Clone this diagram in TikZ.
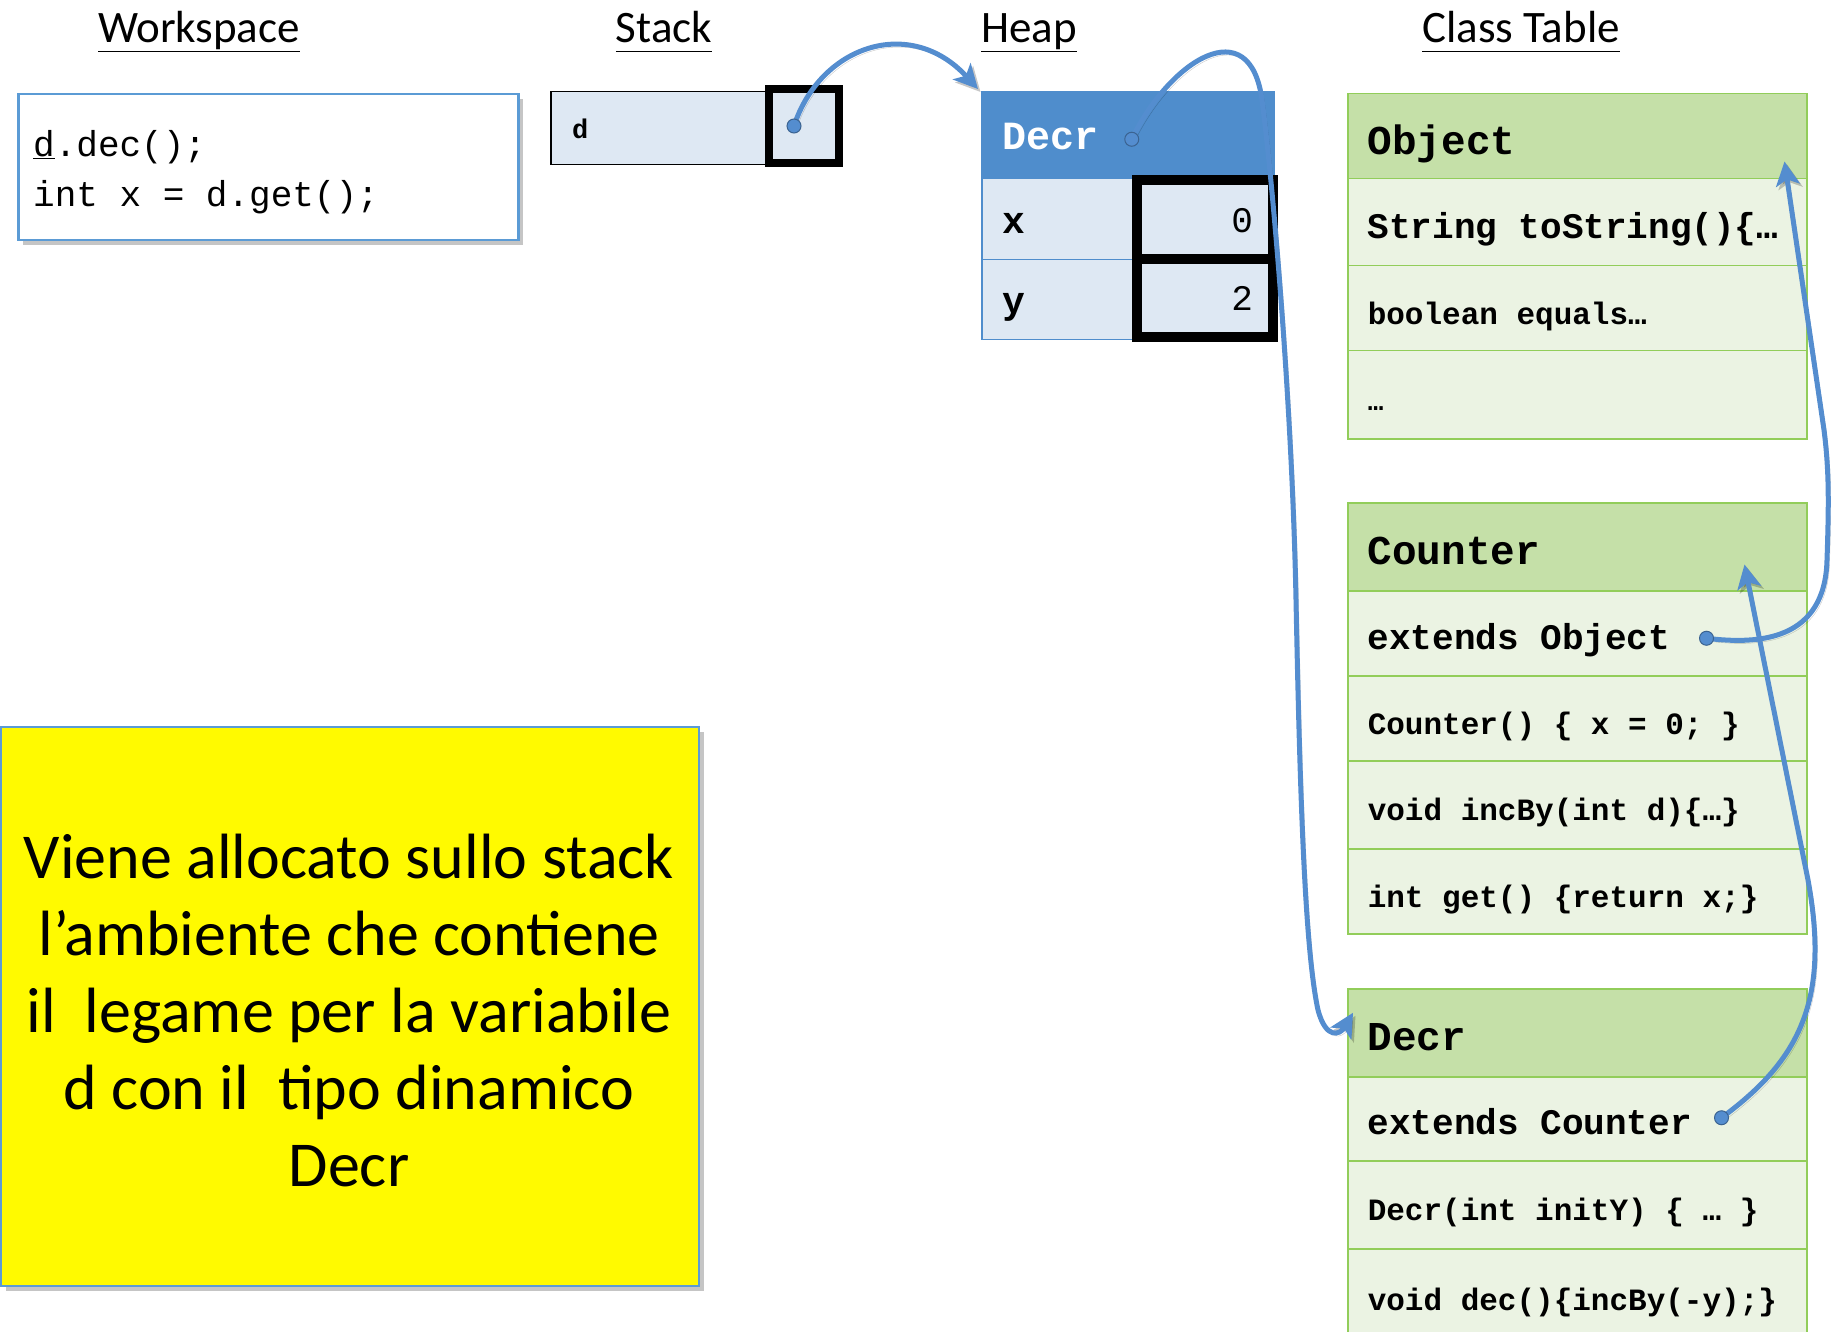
\documentclass[tikz,border=0pt]{standalone}
\usepackage{fontspec}
\setmainfont{Carlito}
\setmonofont{Liberation Mono}
\usetikzlibrary{shadows,arrows.meta}
\definecolor{heapblue}{RGB}{79,141,204}
\definecolor{lblue}{RGB}{222,232,243}
\definecolor{ghead}{RGB}{197,224,168}
\definecolor{grow}{RGB}{235,243,227}
\definecolor{gline}{RGB}{146,205,90}
\definecolor{arrblue}{RGB}{84,141,207}
\definecolor{wsblue}{RGB}{91,155,213}
\definecolor{noteyellow}{RGB}{255,250,0}
\newcommand{\fsz}[1]{\fontsize{#1}{#1}\selectfont}
\newcommand{\monofix}{\spaceskip=0.6em\relax\xspaceskip=0.6em\relax}
\newcommand{\bmono}[1]{\ttfamily\bfseries\fsz{#1}}
\begin{document}
\begin{tikzpicture}[x=1pt,y=-1pt,
  title/.style={anchor=base, inner sep=0pt, font=\fsz{45}},
  crow/.style={draw=gline, line width=1.5pt, fill=grow, anchor=north west,
    minimum width=459pt, text width=419pt, inner xsep=20pt, inner ysep=0pt,
    text height=32pt, text depth=0pt,
    align=left, execute at begin node={\monofix}, font=\bmono{31}},
  chead/.style={crow, fill=ghead, text height=36pt, font=\bmono{41}},
  hrow/.style={draw=heapblue, line width=1.5pt, fill=lblue, anchor=north west,
    minimum width=292pt, text width=250pt, inner xsep=21pt, inner ysep=0pt,
    text height=28pt, text depth=0pt,
    align=left, font=\bmono{38}},
  hval/.style={draw=black, line width=10pt, fill=lblue, minimum width=136pt,
    text width=96pt, inner xsep=20pt, inner ysep=0pt, align=right,
    text height=26pt, text depth=0pt, font=\ttfamily\fsz{36}},
  conn/.style={draw=arrblue, line width=5pt, line cap=round,
    -{Stealth[length=24pt,width=24pt,inset=6pt]},
    preaction={draw=black, opacity=0.22, transform canvas={shift={(2.5pt,-3pt)}}}},
  dotstyle/.style={circle, fill=arrblue, draw=arrblue!70!black, line width=1pt,
    inner sep=0pt, minimum size=14pt},
  shadowbox/.style={drop shadow={shadow xshift=5pt, shadow yshift=-5pt, fill=black!45, opacity=0.5}}
]
\useasboundingbox (0,0) rectangle (1832,1332);

% titles
\node[title] (tws) at (199,43) {\underline{Workspace}};
\node[title] (tstk) at (664,43) {\underline{\vphantom{p}Stack}};
\node[title] (theap) at (1029,43) {\underline{\vphantom{p}Heap}};
\node[title] (tct) at (1521,43) {\underline{\vphantom{p}Class Table}};

% workspace
\node[draw=wsblue, line width=2.5pt, fill=white, shadowbox, anchor=north west,
  minimum width=500pt, minimum height=146pt] (ws) at (17,93) {};
\node[anchor=west, inner sep=0pt, align=left, execute at begin node={\monofix},
  font=\ttfamily\fontsize{36}{50}\selectfont]
  (wscode) at (33,172) {\underline{d}.dec();\\int x = d.get();};

% stack
\node[draw=black, line width=1.5pt, fill=lblue, anchor=north west,
  minimum width=215pt, minimum height=73pt] (stkrow) at (550,91) {};
\node[anchor=west, inner sep=0pt, font=\bmono{27}] (stkd) at (572,129) {d};
\node[draw=black, line width=8pt, fill=lblue, minimum width=70pt, minimum height=74pt]
  (stkbox) at (804,126) {};

% heap
\node[hrow, fill=heapblue, text=white, minimum height=87pt, font=\bmono{40}]
  (heaphead) at (981,91) {Decr};
\node[hrow, minimum height=81pt] (heapx) at (981,178) {x};
\node[hrow, minimum height=80pt] (heapy) at (981,259) {y};
\node[hval, minimum height=79pt] (hvx) at (1205,219.5) {0};
\node[hval, minimum height=78pt] (hvy) at (1205,298) {2};

% class table: Object
\node[chead, minimum height=85pt] (objh) at (1347,93) {Object};
\node[crow, minimum height=87pt, font=\bmono{36}] (objr1) at (1347,178) {String toString()\{…};
\node[crow, minimum height=85pt] (objr2) at (1347,265) {boolean equals…};
\node[crow, minimum height=88pt, font=\bmono{26}] (objr3) at (1347,350) {…};

% Counter
\node[chead, minimum height=88pt] (cnth) at (1347,502) {Counter};
\node[crow, minimum height=85pt, font=\bmono{36}] (cntr1) at (1347,590) {extends Object};
\node[crow, minimum height=85pt] (cntr2) at (1347,675) {Counter() \{ x = 0; \}};
\node[crow, minimum height=88pt] (cntr3) at (1347,760) {void incBy(int d)\{…\}};
\node[crow, minimum height=85pt] (cntr4) at (1347,848) {int get() \{return x;\}};

% Decr
\node[chead, minimum height=88pt] (dech) at (1347,988) {Decr};
\node[crow, minimum height=84pt, font=\bmono{36}] (decr1) at (1347,1076) {extends Counter};
\node[crow, minimum height=88pt] (decr2) at (1347,1160) {Decr(int initY) \{ … \}};
\node[crow, minimum height=92pt] (decr3) at (1347,1248) {void dec()\{incBy(-y);\}};

% note
\node[draw=wsblue, line width=2pt, fill=noteyellow, shadowbox, anchor=north west,
  minimum width=698pt, minimum height=559pt] (note) at (0,726) {};
\node[inner sep=0pt, align=center, font=\fontsize{64}{77}\selectfont] (notetext) at (349,1010)
  {Viene allocato sullo stack\\l’ambiente che contiene\\il~~legame per la variabile\\d con il~~tipo dinamico\\Decr};

% connectors
\coordinate (s1) at ([shift={(-10,0)}]stkbox.center);
\coordinate (e1) at ([shift={(-3,-2)}]heaphead.north west);
\draw[conn] (s1) .. controls +(26,-80) and +(-68,-74) .. (e1);
\node[dotstyle] (d1) at (s1) {};

\coordinate (s2) at ([shift={(4,4)}]heaphead.center);
\coordinate (e2) at ([shift={(6,-20)}]dech.west);
\draw[conn] (s2) .. controls (1170,60) and (1250,10) .. (1262,100)
  .. controls (1272,175) and (1292,400) .. (1296,600)
  .. controls (1300,800) and (1305,950) .. (1318,1010)
  .. controls (1326,1040) and (1340,1035) .. (e2);
\node[dotstyle] (d2) at (s2) {};

\coordinate (s3) at ([shift={(-101,5)}]cntr1.east);
\coordinate (e3) at ([shift={(-23,-18)}]objh.south east);
\draw[conn] (s3) .. controls (1760,645) and (1825,640) .. (1827,560)
  .. controls (1829,500) and (1829,470) .. (1824,430) -- (e3);
\node[dotstyle] (d3) at (s3) {};

\coordinate (s4) at ([shift={(-86,-1)}]decr1.east);
\coordinate (e4) at ([shift={(-63,-27)}]cnth.south east);
\draw[conn] (s4) .. controls (1800,1060) and (1830,1000) .. (1808,880) -- (e4);
\node[dotstyle] (d4) at (s4) {};
\end{tikzpicture}
\end{document}
